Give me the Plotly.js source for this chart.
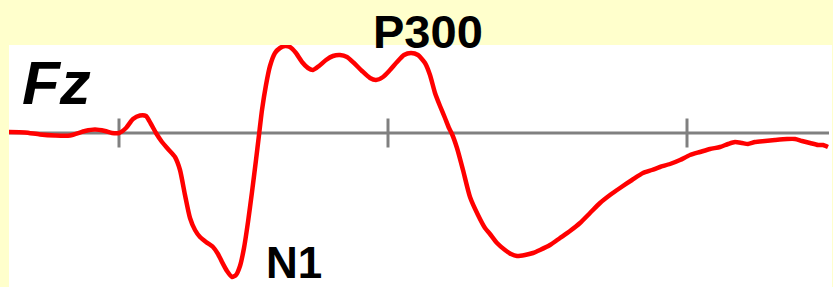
<!DOCTYPE html>
<html>
<head>
<meta charset="utf-8">
<script src="https://cdn.plot.ly/plotly-3.0.1.min.js"></script>
<style>
  html, body { margin: 0; padding: 0; background: #FFFFCC; }
  #chart { width: 833px; height: 287px; }
</style>
</head>
<body>
<div id="chart"></div>
<script>
// Time (ms relative to stimulus onset) and amplitude (µV)
const timeMs = [-110, -94, -79, -64, -49, -34, -24, -14, -7, 0, 7, 14, 21, 27, 32, 37, 43, 49, 56, 61, 66, 71, 76, 81, 87, 94, 99, 103, 108, 113, 117, 121, 125, 129, 133, 137, 140, 143, 147, 151, 156, 161, 166, 171, 177, 183, 189, 194, 200, 207, 214, 221, 228, 235, 243, 251, 257, 264, 271, 278, 285, 292, 299, 306, 311, 316, 321, 326, 330, 333, 338, 344, 351, 359, 366, 371, 378, 386, 392, 398, 406, 414, 421, 431, 441, 451, 461, 471, 481, 491, 501, 513, 524, 533, 541, 551, 561, 571, 581, 591, 601, 609, 616, 623, 629, 636, 646, 656, 668, 676, 683, 691, 699, 704, 709];
const amplitudeUv = [0.1, 0.05, -0.15, -0.25, -0.25, 0.2, 0.35, 0.2, 0.0, 0.0, 0.5, 1.4, 1.75, 1.7, 0.9, 0.0, -0.9, -1.6, -2.4, -3.7, -6.2, -8.5, -9.7, -10.4, -10.9, -11.4, -12.1, -12.9, -13.8, -14.4, -14.2, -13.3, -11.5, -8.9, -5.9, -2.7, -0.2, 2.3, 4.8, 6.7, 8.0, 8.5, 8.7, 8.6, 8.0, 7.1, 6.5, 6.3, 6.7, 7.3, 7.7, 7.8, 7.6, 7.0, 6.2, 5.5, 5.3, 5.6, 6.3, 7.1, 7.8, 8.0, 7.8, 7.0, 5.8, 4.0, 2.7, 1.5, 0.5, -0.1, -1.5, -3.7, -6.4, -8.2, -9.5, -10.1, -11.0, -11.7, -12.1, -12.3, -12.2, -12.0, -11.7, -11.2, -10.5, -9.8, -9.0, -8.0, -7.0, -6.2, -5.5, -4.7, -4.0, -3.7, -3.4, -3.1, -2.7, -2.2, -1.9, -1.6, -1.4, -1.1, -0.9, -1.0, -1.1, -0.9, -0.8, -0.7, -0.6, -0.6, -0.8, -1.0, -1.2, -1.2, -1.4];

// Baseline extent and tick positions (ms)
const baselineMs = [-110, 710];
const tickMs = [0, 269, 568];
const tickHalfUv = 1.45;

// Labels
const channelLabel = 'Fz';
const peakLabels = ['P300', 'N1'];

const tickX = [], tickY = [];
tickMs.forEach(t => { tickX.push(t, t, null); tickY.push(-tickHalfUv, tickHalfUv, null); });

const traces = [
  { x: baselineMs, y: [0, 0], mode: 'lines', line: { color: '#808080', width: 3 }, hoverinfo: 'skip', showlegend: false },
  { x: tickX, y: tickY, mode: 'lines', line: { color: '#808080', width: 3 }, hoverinfo: 'skip', showlegend: false },
  { x: timeMs, y: amplitudeUv, mode: 'lines', line: { color: '#FF0000', width: 4.5, shape: 'spline', smoothing: 0.6 }, showlegend: false }
];

const font = 'Liberation Sans, Arial, sans-serif';
const layout = {
  width: 833, height: 287,
  margin: { l: 9, r: 1, t: 45, b: 0, pad: 0 },
  paper_bgcolor: '#FFFFCC',
  plot_bgcolor: '#FFFFFF',
  showlegend: false,
  xaxis: { range: [-110, 713], showgrid: false, zeroline: false, showticklabels: false, ticks: '', showline: false, fixedrange: true },
  yaxis: { range: [-15.4, 8.8], showgrid: false, zeroline: false, showticklabels: false, ticks: '', showline: false, fixedrange: true },
  annotations: [
    { text: '<b><i>' + channelLabel + '</i></b>', x: -99, y: 5.1, xref: 'x', yref: 'y', xanchor: 'left', yanchor: 'middle', showarrow: false, font: { family: font, size: 62, color: '#000000' } },
    { text: '<b>' + peakLabels[0] + '</b>', x: 309, y: 1.054, xref: 'x', yref: 'paper', xanchor: 'center', yanchor: 'middle', showarrow: false, font: { family: font, size: 47, color: '#000000' } },
    { text: '<b>' + peakLabels[1] + '</b>', x: 175, y: -12.9, xref: 'x', yref: 'y', xanchor: 'center', yanchor: 'middle', showarrow: false, font: { family: font, size: 44, color: '#000000' } }
  ]
};

Plotly.newPlot('chart', traces, layout, { displayModeBar: false, staticPlot: true });
</script>
</body>
</html>
